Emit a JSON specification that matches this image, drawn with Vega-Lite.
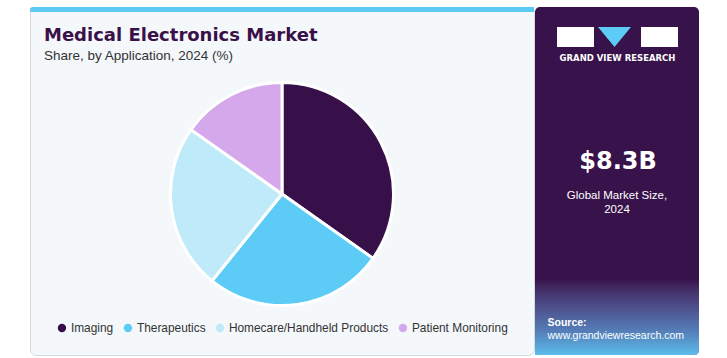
{
  "$schema": "https://vega.github.io/schema/vega-lite/v6.json",
  "background": "white",
  "padding": {"left": 29, "top": 6, "right": 30, "bottom": 4},
  "spacing": -5,
  "config": {"view": {"stroke": null}},
  "hconcat": [
    {
      "width": 504,
      "height": 348,
      "view": {"fill": "#F4F8FB", "stroke": "#D6D9DC", "cornerRadius": 6},
      "title": {
        "text": "Medical Electronics Market",
        "subtitle": "Share, by Application, 2024 (%)",
        "anchor": "start",
        "orient": "top",
        "offset": -55,
        "dx": 14,
        "font": "DejaVu Sans",
        "fontSize": 18,
        "fontWeight": "bold",
        "color": "#3A1048",
        "subtitleFont": "Liberation Sans",
        "subtitleFontSize": 13.5,
        "subtitleColor": "#333333",
        "subtitlePadding": 4
      },
      "layer": [
        {
          "data": {"values": [{"band": "top"}]},
          "mark": {"type": "rect", "color": "#5CCBF3", "x": 0, "x2": 504, "y": 0, "y2": 5, "cornerRadiusTopLeft": 5},
          "encoding": {}
        },
        {
          "data": {
            "values": [
              {"application": "Imaging", "share": 34.8, "rank": 1},
              {"application": "Therapeutics", "share": 26.0, "rank": 2},
              {"application": "Homecare/Handheld Products", "share": 24.0, "rank": 3},
              {"application": "Patient Monitoring", "share": 15.2, "rank": 4}
            ]
          },
          "mark": {"type": "arc", "outerRadius": 111.5, "stroke": "white", "strokeWidth": 3, "x": 252, "y": 187},
          "encoding": {
            "theta": {"field": "share", "type": "quantitative", "stack": true},
            "order": {"field": "rank", "type": "quantitative"},
            "color": {
              "field": "application",
              "type": "nominal",
              "scale": {
                "domain": ["Imaging", "Therapeutics", "Homecare/Handheld Products", "Patient Monitoring"],
                "range": ["#37104A", "#5CCBF5", "#BEEAF9", "#D4A8EB"]
              },
              "legend": {
                "title": null,
                "orient": "none",
                "legendX": 26,
                "legendY": 315,
                "direction": "horizontal",
                "symbolType": "circle",
                "symbolSize": 70,
                "symbolStrokeWidth": 0,
                "labelFont": "Liberation Sans",
                "labelFontSize": 11.9,
                "labelColor": "#333333",
                "labelOffset": 3,
                "labelLimit": 300,
                "columnPadding": 8,
                "padding": 0
              }
            }
          }
        }
      ]
    },
    {
      "width": 164,
      "height": 348,
      "view": {"fill": "#38124A", "stroke": null, "cornerRadius": 5},
      "layer": [
        {
          "data": {"values": [{"band": "bottom"}]},
          "mark": {
            "type": "rect",
            "x": 0, "x2": 164, "y": 272, "y2": 348,
            "cornerRadiusBottomRight": 5,
            "color": {
              "gradient": "linear", "x1": 0, "y1": 0, "x2": 0, "y2": 1,
              "stops": [
                {"offset": 0, "color": "#38124A"},
                {"offset": 0.15, "color": "#443068"},
                {"offset": 0.35, "color": "#4D4C88"},
                {"offset": 0.7, "color": "#5580BA"},
                {"offset": 1, "color": "#5BBEEB"}
              ]
            }
          },
          "encoding": {}
        },
        {
          "data": {"values": [{"part": "G"}]},
          "mark": {"type": "rect", "color": "white", "x": 22, "x2": 59, "y": 20, "y2": 40},
          "encoding": {}
        },
        {
          "data": {"values": [{"part": "R"}]},
          "mark": {"type": "rect", "color": "white", "x": 106, "x2": 143, "y": 20, "y2": 40},
          "encoding": {}
        },
        {
          "data": {"values": [{"part": "V"}]},
          "mark": {"type": "point", "filled": true, "opacity": 1, "color": "#5CCBF5", "shape": "M-1,-0.6L1,-0.6L0,0.6Z", "size": 1089, "x": 79.5, "y": 30},
          "encoding": {}
        },
        {
          "data": {"values": [{"part": "Gnotch"}]},
          "mark": {"type": "rule", "color": "#38124A", "strokeWidth": 1.2, "x": 39, "x2": 59, "y": 29.5, "y2": 29.5},
          "encoding": {}
        },
        {
          "data": {"values": [{"part": "Gnotch2"}]},
          "mark": {"type": "rule", "color": "#38124A", "strokeWidth": 1.2, "x": 39, "x2": 39, "y": 29.5, "y2": 33},
          "encoding": {}
        },
        {
          "data": {"values": [{"part": "Rleg"}]},
          "mark": {"type": "rule", "color": "#38124A", "strokeWidth": 1.2, "x": 129, "x2": 143, "y": 28.5, "y2": 36},
          "encoding": {}
        },
        {
          "data": {"values": [{"label": "GRAND VIEW RESEARCH"}]},
          "mark": {"type": "text", "color": "white", "font": "DejaVu Sans", "fontWeight": "bold", "fontSize": 8.5, "letterSpacing": 0.8, "align": "center", "baseline": "middle", "x": 82.5, "y": 51},
          "encoding": {"text": {"field": "label"}}
        },
        {
          "data": {"values": [{"label": "$8.3B"}]},
          "mark": {"type": "text", "color": "white", "font": "DejaVu Sans", "fontWeight": "bold", "fontSize": 24, "align": "center", "baseline": "alphabetic", "x": 83, "y": 162},
          "encoding": {"text": {"field": "label"}}
        },
        {
          "data": {"values": [{"part": "divider"}]},
          "mark": {"type": "rule", "color": "#C8B7D8", "strokeWidth": 1, "x": 17, "x2": 148, "y": 173.5, "y2": 173.5},
          "encoding": {}
        },
        {
          "data": {"values": [{"label": "Global Market Size,"}]},
          "mark": {"type": "text", "color": "white", "font": "Liberation Sans", "fontSize": 11.5, "align": "center", "baseline": "alphabetic", "x": 82, "y": 191.5},
          "encoding": {"text": {"field": "label"}}
        },
        {
          "data": {"values": [{"label": "2024"}]},
          "mark": {"type": "text", "color": "white", "font": "Liberation Sans", "fontSize": 11.5, "align": "center", "baseline": "alphabetic", "x": 82, "y": 206},
          "encoding": {"text": {"field": "label"}}
        },
        {
          "data": {"values": [{"label": "Source:"}]},
          "mark": {"type": "text", "color": "white", "font": "Liberation Sans", "fontWeight": "bold", "fontSize": 10.5, "align": "left", "baseline": "alphabetic", "x": 12.5, "y": 319},
          "encoding": {"text": {"field": "label"}}
        },
        {
          "data": {"values": [{"label": "www.grandviewresearch.com"}]},
          "mark": {"type": "text", "color": "white", "font": "Liberation Sans", "fontSize": 10.5, "align": "left", "baseline": "alphabetic", "x": 12.5, "y": 332},
          "encoding": {"text": {"field": "label"}}
        }
      ]
    }
  ]
}
